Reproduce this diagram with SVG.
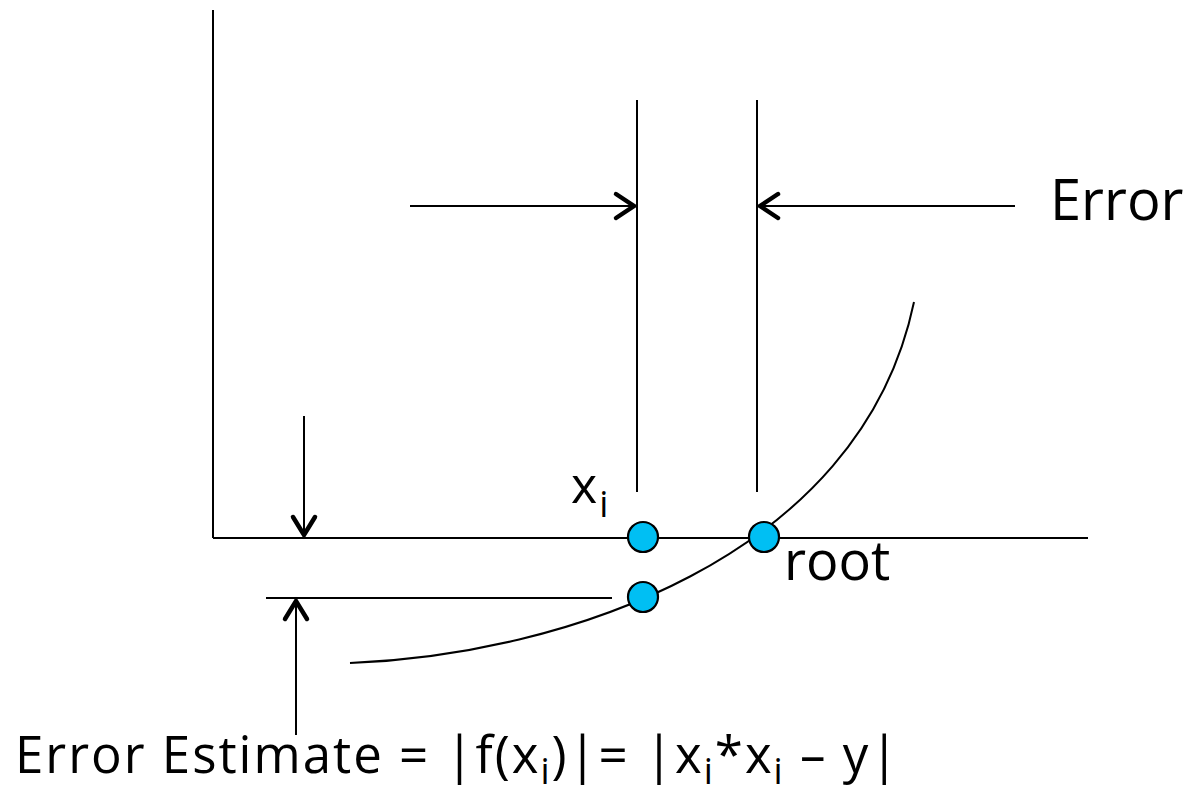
<svg xmlns="http://www.w3.org/2000/svg" width="1185" height="794" viewBox="0 0 1185 794">
<style>
.ln{stroke:#000;stroke-width:2;fill:none}
.ah{stroke:#000;stroke-width:4.5;fill:none;stroke-linecap:round;stroke-linejoin:miter}
.dot{fill:#00BFF3;stroke:#000;stroke-width:2.2}
.t{font-family:"Open Sans","Noto Sans",sans-serif;font-size:54px;fill:#000}
.b{font-size:51px;letter-spacing:2px}
.s{font-size:36px;fill:#000}
</style>
<rect width="1185" height="794" fill="#fff"/>
<g id="axes">
<line class="ln" x1="213" y1="10" x2="213" y2="538"/>
<line class="ln" x1="213" y1="538" x2="1088" y2="538"/>
</g>
<g id="connectors">
<line class="ln" x1="637" y1="100" x2="637" y2="492"/>
<line class="ln" x1="757" y1="100" x2="757" y2="492"/>
<line class="ln" x1="410" y1="206" x2="634" y2="206"/>
<path class="ah" d="M616 194 L634 206 L616 218"/>
<line class="ln" x1="760" y1="206" x2="1015" y2="206"/>
<path class="ah" d="M778 194 L760 206 L778 218"/>
<line class="ln" x1="304" y1="416" x2="304" y2="535"/>
<path class="ah" d="M293 517 L304 535 L315 517"/>
<line class="ln" x1="266" y1="598" x2="612" y2="598"/>
<line class="ln" x1="296" y1="735" x2="296" y2="601"/>
<path class="ah" d="M285 619 L296 601 L307 619"/>
<path class="ln" d="M350 663 C560 655 860 560 914 302"/>
</g>
<g id="points">
<circle class="dot" cx="643" cy="537" r="15"/>
<circle class="dot" cx="764" cy="537" r="15"/>
<circle class="dot" cx="643" cy="597" r="15"/>
</g>
<g id="labels">
<text class="t" x="1050" y="220" style="font-size:56px">Error</text>
<text class="t" x="571" y="503" style="font-size:50px">x<tspan class="s" dx="2" dy="14">i</tspan></text>
<text class="t" x="784" y="580">root</text>
<text class="t b" x="15" y="773">Error Estimate = |f(x<tspan class="s" dy="11">i</tspan><tspan dy="-11">)|= |x</tspan><tspan class="s" dy="11">i</tspan><tspan dy="-11">*x</tspan><tspan class="s" dy="11">i</tspan><tspan dy="-11"> – y|</tspan></text>
</g>
</svg>
